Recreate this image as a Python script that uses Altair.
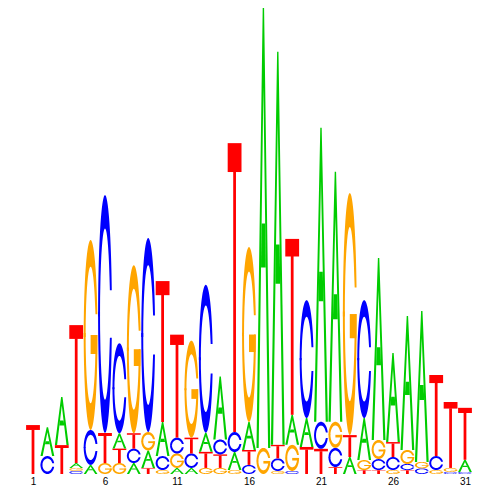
import math
import altair as alt
import pandas as pd

# ---- data (information content, bits) ----
positions = list(range(1, 32))
A_bits = [0, 0.124, 0.206, 0.021, 0.039, 0, 0.066, 0.047, 0.075, 0.146, 0.026, 0.026, 0.082, 0.270, 0.077,
          0.120, 1.888, 1.687, 0.129, 0.124, 1.262, 1.073, 0.073, 0.180, 0.781, 0.382, 0.575, 0.648, 0, 0, 0.052]
C_bits = [0, 0.077, 0, 0.013, 0.150, 1.021, 0.386, 0.062, 0.833, 0.060, 0.068, 0.062, 0.635, 0.064, 0.086,
          0.039, 0, 0.054, 0.013, 0.506, 0.116, 0.082, 0, 0.506, 0.047, 0.056, 0.026, 0.024, 0.060, 0.009, 0.009]
G_bits = [0, 0, 0, 0.013, 0.815, 0.047, 0.047, 0.721, 0.079, 0.017, 0.062, 0.416, 0.026, 0.026, 0.017,
          0.751, 0.112, 0.013, 0.112, 0, 0, 0.112, 1.039, 0.043, 0.082, 0.017, 0.060, 0.028, 0.017, 0.017, 0]
T_bits = [0.210, 0, 0.124, 0.592, 0, 0.129, 0.062, 0.066, 0.026, 0.605, 0.442, 0.068, 0.069, 0.058, 1.240,
          0.064, 0, 0.058, 0.755, 0.116, 0.108, 0.030, 0.094, 0.017, 0.017, 0.064, 0.017, 0, 0.348, 0.283, 0.223]
letters = ["A", "C", "G", "T"]
letter_colors = ["#00CC00", "#0000FF", "#FFA500", "#FF0000"]
tick_labels = [1, 6, 11, 16, 21, 26, 31]

# ---- glyph templates in a unit box (lists of (x, y_low, y_high) per piece) ----
def glyph_A():
    def outer(x):
        return max(0.0, min(x / 0.45, 1.0, (1 - x) / 0.45))
    def inner(x):
        return max(0.0, 0.82 * (1 - abs(x - 0.5) / 0.34))
    main = [(x, inner(x), outer(x)) for x in [0, 0.16, 0.45, 0.5, 0.55, 0.84, 1.0]]
    xs = [0.33, 0.3715, 0.5, 0.6285, 0.67]
    bar = [(x, 0.41, max(0.41, min(0.51, inner(x) + 0.02))) for x in xs]
    return [main, bar]

def glyph_T():
    bar = [(0.0, 0.9, 1.0), (1.0, 0.9, 1.0)]
    stem = [(0.4, 0.0, 0.905), (0.6, 0.0, 0.905)]
    return [bar, stem]

def ring_half(top, gap, n=40):
    ro, ri = 0.5, 0.36
    u_end = math.sqrt(ro * ro - gap * gap)
    us = set()
    for k in range(n + 1):
        u = -ro * math.cos(math.pi * k / n)
        if u <= u_end:
            us.add(round(u, 5))
    us.update([-ri, ri if ri < u_end else u_end, u_end])
    pts = []
    for u in sorted(us):
        o = math.sqrt(max(ro * ro - u * u, 0.0))
        i = math.sqrt(ri * ri - u * u) if abs(u) < ri else 0.0
        if u > 0:
            i = max(i, gap)
        elif abs(u) >= ri:
            i = -0.01
        if top:
            pts.append((0.5 + u, 0.5 + i, 0.5 + o))
        else:
            pts.append((0.5 + u, 0.5 - o, 0.5 - i))
    return pts

def glyph_C():
    return [ring_half(True, 0.10), ring_half(False, 0.10)]

def glyph_G():
    bar = [(0.5, 0.40, 0.50), (0.97, 0.40, 0.50)]
    return [ring_half(True, 0.11), ring_half(False, 0.0), bar]

templates = {"A": glyph_A(), "C": glyph_C(), "G": glyph_G(), "T": glyph_T()}
heights = {"A": A_bits, "C": C_bits, "G": G_bits, "T": T_bits}

# ---- build the stacked letter table ----
rows = []
margin = 0.02
for p_i, pos in enumerate(positions):
    stack = sorted([(heights[l][p_i], l) for l in letters if heights[l][p_i] > 0], key=lambda t: t[0])
    base = 0.0
    for h, l in stack:
        for k, piece in enumerate(templates[l]):
            pid = f"{pos}-{l}-{k}"
            for xu, lo, hi in piece:
                rows.append({
                    "x": pos - 0.5 + margin + xu * (1 - 2 * margin),
                    "y": base + lo * h,
                    "y2": base + hi * h,
                    "letter": l,
                    "piece": pid,
                })
        base += h
df = pd.DataFrame(rows)

chart = alt.Chart(df).mark_area(opacity=1, orient="vertical", interpolate="linear").encode(
    x=alt.X("x:Q", scale=alt.Scale(domain=[0.5, 31.5], nice=False, zero=False),
            axis=alt.Axis(values=tick_labels, title=None, domain=False, ticks=False, grid=False,
                          labelFontSize=10, labelFont="Liberation Sans", labelColor="black",
                          labelPadding=3, format="d")),
    y=alt.Y("y:Q", scale=alt.Scale(domain=[0, 2], nice=False, zero=True), axis=None),
    y2="y2:Q",
    color=alt.Color("letter:N", scale=alt.Scale(domain=letters, range=letter_colors), legend=None),
    detail="piece:N",
).properties(
    width=446.4, height=466,
    padding={"left": 17.8, "top": 0, "right": 0, "bottom": 0},
).configure_view(stroke=None)

chart.save("out.html", embed_options={"renderer": "svg", "actions": False})
